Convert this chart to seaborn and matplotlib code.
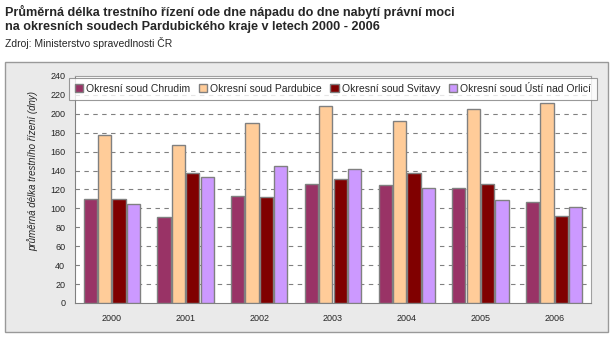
import matplotlib
matplotlib.use("Agg")
import matplotlib.pyplot as plt
import seaborn as sns
import pandas as pd
from matplotlib.patches import Rectangle

years = ["2000", "2001", "2002", "2003", "2004", "2005", "2006"]
courts = ["Okresní soud Chrudim", "Okresní soud Pardubice",
          "Okresní soud Svitavy", "Okresní soud Ústí nad Orlicí"]
chrudim = [110, 91, 113, 126, 125, 122, 107]
pardubice = [178, 167, 190, 208, 192, 205, 211]
svitavy = [110, 137, 112, 131, 137, 126, 92]
usti = [105, 133, 145, 142, 122, 109, 101]
colors = ["#993366", "#FFCC99", "#800000", "#CC99FF"]
yticks = list(range(0, 241, 20))

series = [chrudim, pardubice, svitavy, usti]
rows = []
for c, vals in zip(courts, series):
    for y, v in zip(years, vals):
        rows.append({"year": y, "court": c, "value": v})
df = pd.DataFrame(rows)

sns.set_style("white")
plt.rcParams["font.family"] = ["Liberation Sans", "DejaVu Sans"]

fig = plt.figure(figsize=(6.11, 3.37), dpi=100)
fig.patch.set_facecolor("white")
# chart frame
frame = Rectangle((5 / 611, 1 - 332 / 337), 603 / 611, 270 / 337,
                  transform=fig.transFigure, facecolor="#EAEAEA",
                  edgecolor="#999999", linewidth=1, zorder=-5)
fig.add_artist(frame)

ax = fig.add_axes([75 / 611, 1 - 303 / 337, 516 / 611, 227 / 337])
ax.set_zorder(2)
ax.set_facecolor("white")
sns.barplot(data=df, x="year", y="value", hue="court", palette=colors,
            width=0.78, gap=0.08, saturation=1, edgecolor="#808080",
            linewidth=1, ax=ax, zorder=3)
ax.set_ylim(0, 240)
ax.set_xlim(-0.5, 6.5)
ax.set_yticks(yticks)
ax.set_yticklabels([str(t) for t in yticks], fontsize=6.5)
for t in yticks[1:-1]:
    ax.axhline(t, color="#808080", linestyle=(0, (4, 4)), linewidth=0.8, zorder=1)
ax.set_xticks(range(len(years)))
ax.set_xticklabels(years, fontsize=6.5)
ax.set_xticks([i - 0.5 for i in range(len(years) + 1)], minor=True)
ax.tick_params(axis="x", which="major", length=0, pad=8)
ax.tick_params(axis="x", which="minor", length=4, width=0.8, color="#808080", direction="out")
ax.tick_params(axis="y", length=4, width=0.8, color="#808080", direction="out", pad=3)
ax.set_xlabel("")
ax.set_ylabel("")
for s in ["left", "bottom"]:
    ax.spines[s].set_color("#808080")
    ax.spines[s].set_linewidth(0.8)
for s in ["top", "right"]:
    ax.spines[s].set_color("#A0A0A0")
    ax.spines[s].set_linewidth(0.8)

leg = ax.legend(loc="upper center", bbox_to_anchor=(0.5, 1.0), ncol=4,
                fontsize=7.5, frameon=True, fancybox=False, edgecolor="#808080",
                handlelength=0.8, handleheight=0.8, handletextpad=0.3,
                columnspacing=0.8, borderpad=0.55, borderaxespad=0.2)
leg.get_frame().set_linewidth(0.8)
leg.set_zorder(5)

fig.text(33 / 611, 1 - 171 / 337, "průměrná délka trestního řízení (dny)",
         rotation=90, ha="center", va="center", fontsize=7, style="italic")

fig.text(5 / 611, 1 - 12 / 337,
         "Průměrná délka trestního řízení ode dne nápadu do dne nabytí právní moci",
         fontsize=9.1, fontweight="bold", ha="left", va="center")
fig.text(5 / 611, 1 - 27 / 337,
         "na okresních soudech Pardubického kraje v letech 2000 - 2006",
         fontsize=9.1, fontweight="bold", ha="left", va="center")
fig.text(5 / 611, 1 - 43 / 337, "Zdroj: Ministerstvo spravedlnosti ČR",
         fontsize=7.5, ha="left", va="center")

fig.savefig("out.png", dpi=100)
